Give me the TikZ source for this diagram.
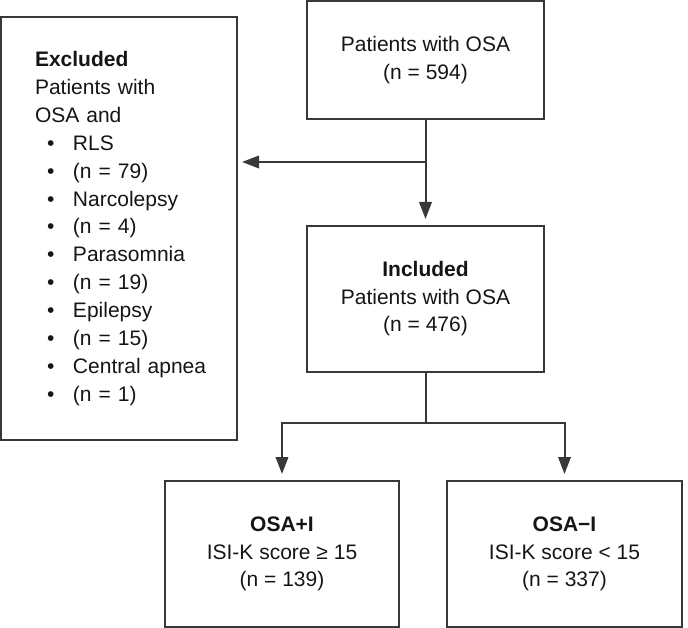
\documentclass[tikz,border=0pt]{standalone}
\usepackage{fontspec}
\setmainfont{Liberation Sans}
\usetikzlibrary{arrows.meta}
\definecolor{linecol}{HTML}{383838}
\definecolor{txtcol}{HTML}{151515}
\begin{document}
\begin{tikzpicture}[x=1pt,y=-1pt,
  box/.style={draw=linecol, line width=2pt, inner sep=0pt, align=center,
    text=txtcol, font=\fontsize{21}{27.5}\selectfont},
  conn/.style={draw=linecol, line width=2pt},
  arr/.style={conn, -{Triangle[length=17pt,width=12.5pt]}}]
\useasboundingbox (0,0) rectangle (688,628);
\node[box, minimum width=237pt, minimum height=118pt] (top) at (425.5,60)
  {Patients with OSA\\(n = 594)};
\node[box, minimum width=237pt, minimum height=146pt] (incl) at (425.5,299)
  {\textbf{Included}\\Patients with OSA\\(n = 476)};
\node[box, minimum width=236pt, minimum height=423pt, text width=168pt,
  inner xsep=34pt, align=left, font=\fontsize{21}{27.9}\selectfont] (excl) at (119,228.5)
  {\textbf{Excluded}\\Patients with\\OSA and\\
   \makebox[38pt][l]{\hspace{12pt}\textbullet}RLS\\
   \makebox[38pt][l]{\hspace{12pt}\textbullet}(n = 79)\\
   \makebox[38pt][l]{\hspace{12pt}\textbullet}Narcolepsy\\
   \makebox[38pt][l]{\hspace{12pt}\textbullet}(n = 4)\\
   \makebox[38pt][l]{\hspace{12pt}\textbullet}Parasomnia\\
   \makebox[38pt][l]{\hspace{12pt}\textbullet}(n = 19)\\
   \makebox[38pt][l]{\hspace{12pt}\textbullet}Epilepsy\\
   \makebox[38pt][l]{\hspace{12pt}\textbullet}(n = 15)\\
   \makebox[38pt][l]{\hspace{12pt}\textbullet}\mbox{Central apnea}\\
   \makebox[38pt][l]{\hspace{12pt}\textbullet}(n = 1)};
\node[box, minimum width=234pt, minimum height=146pt] (osai) at (282,554)
  {\textbf{OSA+I}\\ISI-K score ≥ 15\\(n = 139)};
\node[box, minimum width=235pt, minimum height=146pt] (osani) at (564.5,554)
  {\textbf{OSA−I}\\ISI-K score < 15\\(n = 337)};
\coordinate (br) at (425.5,162);
\coordinate (split) at (425.5,423);
\draw[arr, shorten >=6pt] (top.south) -- (incl.north);
\draw[arr, shorten >=4pt] (br) -- (br -| excl.east);
\draw[conn] (incl.south) -- (split);
\draw[arr, shorten >=6pt] (split) -| (osai.north);
\draw[arr, shorten >=6pt] (split) -| (osani.north);
\end{tikzpicture}
\end{document}
